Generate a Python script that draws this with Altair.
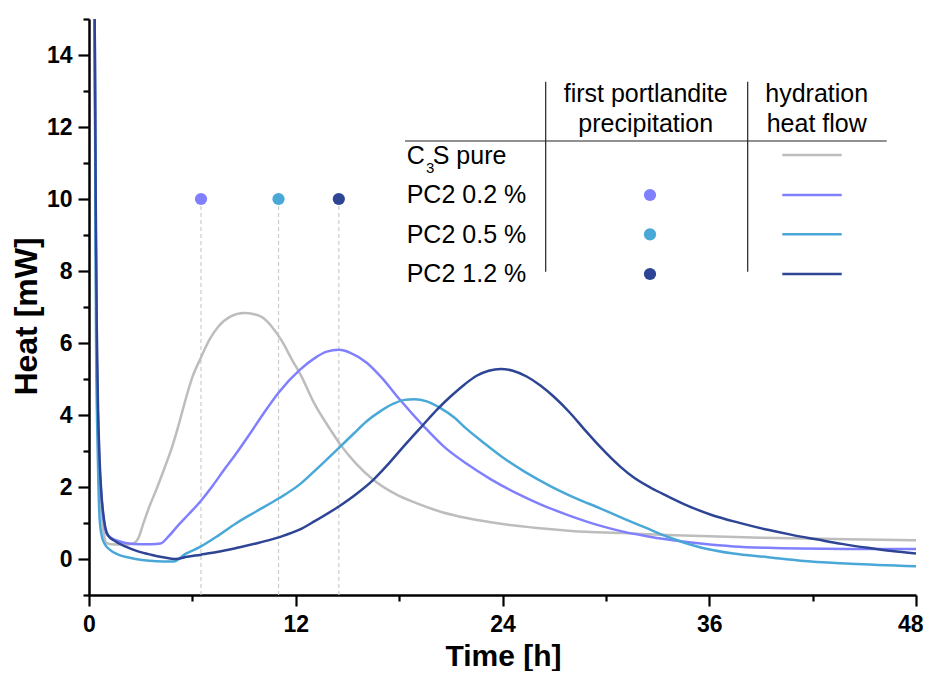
import altair as alt
import pandas as pd

# ---------------- data ----------------
series = ["C3S pure", "PC2 0.2 %", "PC2 0.5 %", "PC2 1.2 %"]
colors = ["#bdbdbd", "#8080ff", "#4aa8d8", "#2e4595"]

t_c3s = [0.33, 0.38, 0.43, 0.5, 0.6, 0.7, 0.8, 0.9, 1.0, 1.3, 1.7, 2.2, 2.6, 2.9, 3.15, 3.5, 3.9,
         4.4, 4.8, 5.2, 5.6, 6.0, 6.5, 7.0, 7.5, 8.2, 9.0, 9.6, 10.1, 10.6, 11.2, 11.8, 12.3, 13.1,
         14.0, 14.6, 15.5, 16.5, 17.8, 19.0, 20.5, 22.0, 24.0, 26.0, 28.0, 31.0, 34.0, 39.0, 44.0, 48.0]
v_c3s = [15.0, 10.0, 6.5, 4.2, 2.4, 1.5, 0.9, 0.6, 0.45, 0.41, 0.4, 0.4, 0.44, 0.62, 0.98, 1.45, 1.92,
         2.55, 3.08, 3.72, 4.42, 5.05, 5.6, 6.1, 6.45, 6.73, 6.83, 6.8, 6.7, 6.46, 6.05, 5.52, 5.1, 4.3,
         3.6, 3.17, 2.65, 2.2, 1.8, 1.55, 1.3, 1.13, 0.97, 0.86, 0.78, 0.72, 0.66, 0.59, 0.55, 0.52]

t_pc02 = [0.33, 0.38, 0.43, 0.5, 0.6, 0.7, 0.85, 1.0, 1.3, 1.7, 2.2, 3.0, 3.6, 4.15, 4.6, 5.2, 5.8,
          6.5, 7.2, 7.8, 8.5, 9.3, 10.1, 11.0, 12.25, 13.1, 13.8, 14.5, 15.2, 16.1, 17.0, 18.0, 19.4,
          20.6, 21.9, 23.3, 24.8, 26.2, 27.8, 29.7, 31.0, 32.3, 33.6, 35.5, 37.4, 39.4, 41.3, 44.0, 48.0]
v_pc02 = [15.0, 10.0, 6.5, 4.3, 2.7, 1.9, 1.1, 0.72, 0.58, 0.5, 0.44, 0.41, 0.41, 0.43, 0.62, 0.95, 1.25,
          1.62, 2.05, 2.45, 2.9, 3.45, 4.02, 4.62, 5.26, 5.58, 5.76, 5.81, 5.72, 5.46, 5.03, 4.45, 3.7,
          3.12, 2.65, 2.22, 1.83, 1.52, 1.22, 0.92, 0.76, 0.64, 0.54, 0.43, 0.35, 0.31, 0.29, 0.28, 0.28]

t_pc05 = [0.33, 0.37, 0.41, 0.47, 0.55, 0.62, 0.75, 0.91, 1.2, 1.7, 2.3, 2.7, 3.5, 4.3, 4.9, 5.6, 6.5,
          7.5, 8.5, 9.7, 11.0, 12.25, 13.1, 14.6, 15.4, 16.1, 16.9, 17.7, 18.3, 18.9, 19.6, 20.4, 21.2,
          21.9, 22.9, 23.9, 25.3, 26.8, 28.2, 29.7, 31.0, 32.3, 33.6, 35.5, 37.4, 39.4, 41.3, 44.2, 48.0]
v_pc05 = [15.0, 10.0, 6.0, 3.8, 2.0, 1.1, 0.62, 0.42, 0.26, 0.12, 0.04, 0.0, -0.05, -0.07, -0.07, 0.14, 0.35,
          0.65, 0.98, 1.32, 1.68, 2.08, 2.45, 3.13, 3.5, 3.82, 4.1, 4.32, 4.42, 4.44, 4.38, 4.19, 3.93,
          3.62, 3.23, 2.86, 2.42, 2.02, 1.7, 1.4, 1.13, 0.87, 0.61, 0.32, 0.15, 0.05, -0.05, -0.13, -0.2]

t_pc12 = [0.33, 0.39, 0.45, 0.52, 0.62, 0.72, 0.87, 1.1, 1.5, 2.1, 2.8, 3.6, 4.3, 5.0, 5.7, 6.5, 7.5,
          8.5, 9.7, 11.0, 12.25, 13.1, 14.5, 15.5, 16.5, 17.3, 18.1, 19.4, 20.2, 21.0, 21.8, 22.5, 23.2,
          23.9, 24.6, 25.4, 26.2, 27.0, 27.9, 28.7, 29.7, 30.85, 31.6, 32.6, 33.6, 34.8, 36.1, 37.7,
          39.4, 40.8, 42.3, 43.7, 45.2, 46.6, 48.0]
v_pc12 = [15.0, 10.0, 6.5, 4.3, 2.7, 1.8, 1.1, 0.66, 0.5, 0.35, 0.22, 0.12, 0.05, 0.0, 0.06, 0.12, 0.2,
          0.3, 0.43, 0.6, 0.82, 1.05, 1.46, 1.8, 2.2, 2.6, 3.04, 3.73, 4.15, 4.52, 4.85, 5.09, 5.23,
          5.28, 5.23, 5.07, 4.82, 4.5, 4.07, 3.63, 3.1, 2.56, 2.27, 1.98, 1.74, 1.47, 1.23, 1.01,
          0.81, 0.67, 0.54, 0.42, 0.31, 0.22, 0.15]

precip_series = ["PC2 0.2 %", "PC2 0.5 %", "PC2 1.2 %"]
precip_time = [6.5, 11.0, 14.5]
precip_heat = [10, 10, 10]

x_ticks = [0, 6, 12, 18, 24, 30, 36, 42, 48]
y_ticks = list(range(-1, 16))

# ---------------- build ----------------
FONT = "Liberation Sans"
curves = {
    "C3S pure": (t_c3s, v_c3s),
    "PC2 0.2 %": (t_pc02, v_pc02),
    "PC2 0.5 %": (t_pc05, v_pc05),
    "PC2 1.2 %": (t_pc12, v_pc12),
}
col = dict(zip(series, colors))

xscale = alt.Scale(domain=[0, 48], nice=False, zero=False)
yscale = alt.Scale(domain=[-1, 15], nice=False, zero=False)

x_axis = alt.Axis(
    values=x_ticks, labelExpr="datum.value % 12 === 0 ? datum.label : ''",
    tickSize={"condition": {"test": "datum.value % 12 === 0", "value": 11}, "value": 6},
    labelAlign={"condition": {"test": "datum.value === 48", "value": "right"}, "value": "center"},
    labelOffset={"condition": {"test": "datum.value === 48", "value": 7}, "value": 0},
    title="Time [h]", titleFont=FONT, titleFontSize=30, titleFontWeight="bold",
    titleX=414, titleY=70, titleBaseline="alphabetic", titleAlign="center", titleColor="black",
    labelFont=FONT, labelFontSize=23, labelFontWeight="bold", labelColor="black",
    labelPadding=7, domainColor="black", domainWidth=2.5, tickColor="black",
    tickWidth=2.2, grid=False, labelFlush=False, labelOverlap=False,
)
y_axis = alt.Axis(
    values=y_ticks, labelExpr="datum.value % 2 === 0 ? datum.label : ''",
    tickSize={"condition": {"test": "datum.value % 2 === 0", "value": 11}, "value": 6},
    title="Heat [mW]", titleFont=FONT, titleFontSize=32, titleFontWeight="bold",
    titleX=-53, titleY=297, titleAngle=-90, titleBaseline="alphabetic", titleAlign="center",
    titleColor="black",
    labelFont=FONT, labelFontSize=23, labelFontWeight="bold", labelColor="black",
    labelPadding=6, domainColor="black", domainWidth=2.5, tickColor="black",
    tickWidth=2.2, grid=False, labelFlush=False, labelOverlap=False,
)

X = alt.X("t:Q", scale=xscale, axis=x_axis)
Y = alt.Y("v:Q", scale=yscale, axis=y_axis)

layers = []
for i, name in enumerate(series):
    t, v = curves[name]
    df = pd.DataFrame({"t": t, "v": v, "i": range(len(t))})
    layers.append(
        alt.Chart(df).mark_line(strokeWidth=2.5, clip=True, color=col[name],
                                interpolate="monotone").encode(x=X, y=Y, order="i:Q")
    )

pdf = pd.DataFrame({"series": precip_series, "t": precip_time, "v": precip_heat})
cscale = alt.Scale(domain=series, range=colors)
dashes = alt.Chart(pdf).mark_rule(color="#cccccc", strokeWidth=1.2, strokeDash=[4, 3]).encode(
    x=X, y=Y, y2=alt.datum(-1),
)
dots = alt.Chart(pdf).mark_circle(size=150, opacity=1).encode(
    x=X, y=Y,
    color=alt.Color("series:N", scale=cscale, legend=None),
)
layers = [dashes] + layers + [dots]

# ---------------- table-style legend (pixel layout) ----------------
one = pd.DataFrame({"k": [0]})


def txt(s, x, y, size=25, align="left"):
    return alt.Chart(one).mark_text(text=s, font=FONT, fontSize=size, align=align,
                                    baseline="alphabetic", color="black").encode(
        x=alt.value(x), y=alt.value(y))


def rule(x1, x2, y1, y2, color="#222222", w=1.2):
    return alt.Chart(one).mark_rule(color=color, strokeWidth=w).encode(
        x=alt.value(x1), x2=alt.value(x2), y=alt.value(y1), y2=alt.value(y2))


leg = [
    txt("first portlandite", 556.7, 82.7, align="center"),
    txt("precipitation", 556.7, 113.3, align="center"),
    txt("hydration", 727.7, 82.7, align="center"),
    txt("heat flow", 727.7, 113.3, align="center"),
    rule(316, 797.7, 122, 122),
    rule(456.7, 456.7, 62.7, 252.7),
    rule(658.7, 658.7, 62.7, 252.7),
]
row_base = [145.3, 184.3, 223.7, 263.3]
row_mid = [136, 176, 215.3, 255]
for i, name in enumerate(series):
    if name == "C3S pure":
        leg += [txt("C", 317.7, row_base[i]), txt("3", 337, row_base[i] + 9, size=15),
                txt("S pure", 343.7, row_base[i])]
    else:
        leg.append(txt(name, 317.7, row_base[i]))
        leg.append(alt.Chart(one).mark_circle(size=150, opacity=1, color=col[name]).encode(
            x=alt.value(561), y=alt.value(row_mid[i])))
    leg.append(rule(693.3, 752.7, row_mid[i], row_mid[i], color=col[name], w=2.5))

chart = alt.layer(*layers, *leg).properties(
    width=827, height=576, background="white",
    autosize=alt.AutoSizeParams(type="none"),
    padding={"left": 81, "top": 11, "right": 7, "bottom": 76},
).configure_view(stroke=None)

chart.save("out.html", embed_options={"renderer": "svg", "actions": False})
